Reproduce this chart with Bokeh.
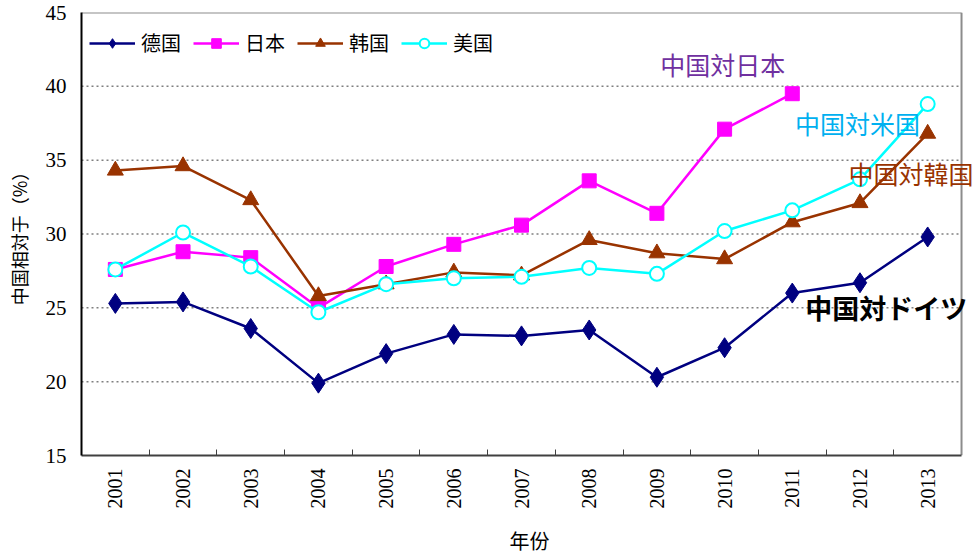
import math
from bokeh.plotting import figure
from bokeh.models import (FixedTicker, Range1d, Legend, LegendItem, Label, ColumnDataSource)
from bokeh.embed import file_html
from bokeh.resources import INLINE

years = [2001, 2002, 2003, 2004, 2005, 2006, 2007, 2008, 2009, 2010, 2011, 2012, 2013]
year_labels = [str(y) for y in years]
germany = [25.3, 25.4, 23.6, 19.9, 21.9, 23.2, 23.1, 23.5, 20.3, 22.3, 26.0, 26.7, 29.8]
japan = [27.6, 28.8, 28.4, 25.0, 27.8, 29.3, 30.6, 33.6, 31.4, 37.1, 39.5, float("nan"), float("nan")]
korea = [34.3, 34.6, 32.3, 25.8, 26.6, 27.4, 27.2, 29.6, 28.7, 28.3, 30.8, 32.1, 36.8]
usa = [27.6, 30.1, 27.8, 24.7, 26.6, 27.0, 27.1, 27.7, 27.3, 30.2, 31.6, 33.7, 38.8]
series_names = ["德国", "日本", "韩国", "美国"]
y_ticks = [15, 20, 25, 30, 35, 40, 45]
grid_values = [20, 25, 30, 35, 40]

CJK = "Noto Sans CJK SC"
SERIF = "Liberation Serif"

x_lo = years[0] - 0.5
x_hi = years[-1] + 0.5
y_lo, y_hi = y_ticks[0], y_ticks[-1]

# frame extends a little past the plotted area so that right-side labels are not clipped
p = figure(width=977, height=557, output_backend="svg", toolbar_location=None,
           x_range=Range1d(x_lo, x_hi + 0.236), y_range=Range1d(y_lo, y_hi),
           min_border_left=81, min_border_right=0, min_border_top=12, min_border_bottom=102)
p.background_fill_color = "white"
p.border_fill_color = "white"
p.outline_line_color = None

# x axis
p.xaxis.ticker = FixedTicker(ticks=years, minor_ticks=[y + 0.5 for y in years[:-1]])
p.xaxis.bounds = (x_lo, x_hi)
p.xaxis.major_label_overrides = {y: l for y, l in zip(years, year_labels)}
p.xaxis.major_label_orientation = math.pi / 2
p.xaxis.major_tick_in = 0
p.xaxis.major_tick_out = 0
p.xaxis.minor_tick_in = 6
p.xaxis.minor_tick_out = 0
p.xaxis.minor_tick_line_color = "#404040"
p.xaxis.axis_line_color = "#404040"
p.xaxis.axis_line_width = 2
p.xaxis.major_label_text_font = SERIF
p.xaxis.major_label_text_font_size = "20px"
p.xaxis.major_label_text_color = "black"
p.xaxis.major_label_standoff = 13
p.xaxis.axis_label = "年份"
p.xaxis.axis_label_text_font = CJK
p.xaxis.axis_label_text_font_size = "20px"
p.xaxis.axis_label_text_font_style = "normal"
p.xaxis.axis_label_text_color = "black"
p.xaxis.axis_label_standoff = 14

# y axis
p.yaxis.ticker = FixedTicker(ticks=y_ticks)
p.yaxis.major_tick_in = 0
p.yaxis.major_tick_out = 0
p.yaxis.minor_tick_line_color = None
p.yaxis.axis_line_color = "black"
p.yaxis.axis_line_width = 2
p.yaxis.major_label_text_font = SERIF
p.yaxis.major_label_text_font_size = "21px"
p.yaxis.major_label_text_color = "black"
p.yaxis.major_label_standoff = 15
p.yaxis.axis_label = "中国相対于（%）"
p.yaxis.axis_label_text_font = CJK
p.yaxis.axis_label_text_font_size = "18px"
p.yaxis.axis_label_text_font_style = "normal"
p.yaxis.axis_label_text_color = "black"
p.yaxis.axis_label_standoff = 11

p.xgrid.grid_line_color = None
p.ygrid.grid_line_color = None

# dotted horizontal grid lines, limited to the plot area
p.segment(x0=[x_lo] * len(grid_values), y0=grid_values, x1=[x_hi] * len(grid_values), y1=grid_values,
          line_color="#808080", line_dash="2 3", line_width=1.5)
# gray top and right border of the plot area
p.segment(x0=[x_lo, x_hi], y0=[y_hi, y_lo], x1=[x_hi, x_hi], y1=[y_hi, y_hi],
          line_color="#8c8c8c", line_width=2)

src = ColumnDataSource(dict(x=years, de=germany, jp=japan, kr=korea, us=usa))

items = []
l1 = p.line("x", "de", source=src, line_color="#000080", line_width=2.5)
m1 = p.scatter("x", "de", source=src, marker="diamond", size=20, fill_color="#000080", line_color="#000080")
items.append(LegendItem(label=series_names[0], renderers=[l1, m1]))

l2 = p.line("x", "jp", source=src, line_color="#FF00FF", line_width=2.5)
m2 = p.scatter("x", "jp", source=src, marker="square", size=14, fill_color="#FF00FF", line_color="#FF00FF")
items.append(LegendItem(label=series_names[1], renderers=[l2, m2]))

l3 = p.line("x", "kr", source=src, line_color="#993300", line_width=2.5)
m3 = p.scatter("x", "kr", source=src, marker="triangle", size=16, fill_color="#993300", line_color="#993300")
items.append(LegendItem(label=series_names[2], renderers=[l3, m3]))

l4 = p.line("x", "us", source=src, line_color="#00FFFF", line_width=2.5)
m4 = p.scatter("x", "us", source=src, marker="circle", size=14, fill_color="white", line_color="#00FFFF", line_width=2)
items.append(LegendItem(label=series_names[3], renderers=[l4, m4]))

legend = Legend(items=items, orientation="horizontal", location=(8, 398),
                border_line_color=None, background_fill_alpha=0,
                label_text_font=CJK, label_text_font_size="20px", label_text_color="black",
                glyph_width=46, glyph_height=24, spacing=12, label_standoff=6,
                padding=4, margin=0)
p.add_layout(legend, "center")

anns = [
    ("中国対日本", 2009.05, 40.3, "#7030A0", "normal", "25px"),
    ("中国対米国", 2011.04, 36.3, "#00B0F0", "normal", "25px"),
    ("中国対韓国", 2011.83, 32.9, "#993300", "normal", "25px"),
    ("中国対ドイツ", 2011.19, 23.7, "black", "bold", "27px"),
]
for txt, x, y, c, st, fs in anns:
    p.add_layout(Label(x=x, y=y, text=txt, text_color=c, text_font=CJK,
                       text_font_size=fs, text_font_style=st))

open("out.html", "w").write(file_html(p, INLINE))
